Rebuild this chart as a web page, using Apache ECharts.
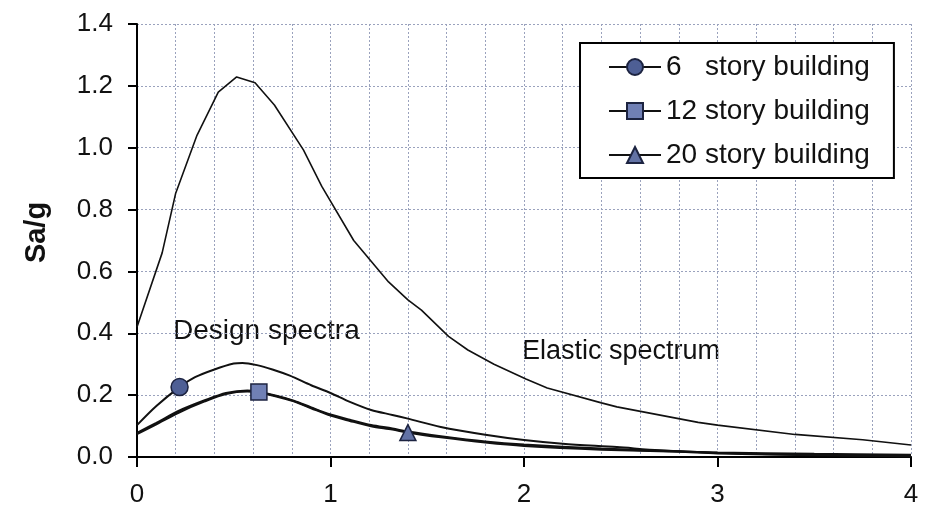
<!DOCTYPE html>
<html>
<head>
<meta charset="utf-8">
<script src="https://cdn.jsdelivr.net/npm/echarts@6/dist/echarts.min.js"></script>
<style>
  html, body { margin: 0; padding: 0; background: #fff; }
  #chart { width: 930px; height: 516px; }
</style>
</head>
<body>
<div id="chart"></div>
<script>
// values (period in s vs Sa/g)
var elasticX = [0, 0.13, 0.2, 0.31, 0.42, 0.515, 0.61, 0.71, 0.86, 0.955, 1.12, 1.3, 1.4, 1.47, 1.61, 1.71, 1.845, 2.01, 2.12, 2.4, 2.48, 2.9, 3.0, 3.4, 3.75, 4.0];
var elasticY = [0.42, 0.66, 0.853, 1.04, 1.18, 1.229, 1.21, 1.138, 0.993, 0.875, 0.70, 0.566, 0.508, 0.475, 0.39, 0.346, 0.30, 0.252, 0.223, 0.175, 0.162, 0.112, 0.103, 0.073, 0.056, 0.039];

var story6X = [0, 0.1, 0.22, 0.3, 0.4, 0.5, 0.545, 0.62, 0.7, 0.79, 0.9, 1.0, 1.1, 1.21, 1.32, 1.4, 1.57, 1.8, 2.0, 2.2, 2.48, 2.7, 3.0, 3.45, 4.0];
var story6Y = [0.103, 0.165, 0.226, 0.258, 0.283, 0.302, 0.304, 0.297, 0.283, 0.263, 0.232, 0.207, 0.178, 0.152, 0.136, 0.124, 0.097, 0.072, 0.055, 0.043, 0.032, 0.022, 0.014, 0.007, 0.002];

var story12X = [0, 0.1, 0.22, 0.35, 0.46, 0.57, 0.63, 0.72, 0.81, 0.9, 1.0, 1.1, 1.21, 1.32, 1.4, 1.57, 1.8, 2.0, 2.4, 2.8, 3.0, 3.5, 4.0];
var story12Y = [0.078, 0.11, 0.15, 0.183, 0.207, 0.215, 0.21, 0.198, 0.182, 0.16, 0.137, 0.12, 0.103, 0.092, 0.082, 0.067, 0.05, 0.04, 0.027, 0.018, 0.014, 0.01, 0.007];

var story20X = [0, 0.1, 0.22, 0.35, 0.46, 0.57, 0.63, 0.72, 0.81, 0.9, 1.0, 1.1, 1.21, 1.32, 1.4, 1.57, 1.8, 2.0, 2.4, 2.8, 3.0, 3.5, 4.0];
var story20Y = [0.074, 0.106, 0.145, 0.18, 0.204, 0.212, 0.208, 0.196, 0.18, 0.158, 0.134, 0.117, 0.1, 0.089, 0.079, 0.064, 0.047, 0.036, 0.024, 0.017, 0.012, 0.006, 0.003];

var legendNames = ['6   story building', '12 story building', '20 story building'];
var yTicks = [0, 0.2, 0.4, 0.6, 0.8, 1.0, 1.2, 1.4];
var xTicks = [0, 1, 2, 3, 4];

var font = 'Liberation Sans, Arial, sans-serif';

// only one marker per curve, like the original
function withMarker(xs, ys, markAt) {
  return xs.map(function (x, i) {
    if (x === markAt) return [x, ys[i]];
    return { value: [x, ys[i]], symbol: 'none' };
  });
}

var myChart = echarts.init(document.getElementById('chart'));

var gridLine = { show: true, lineStyle: { color: '#9aa2bd', type: [2, 2], width: 1 } };

var option = {
  animation: false,
  backgroundColor: '#fff',
  grid: { left: 137, right: 19, top: 24, bottom: 59 },
  xAxis: {
    type: 'value',
    min: xTicks[0],
    max: xTicks[xTicks.length - 1],
    interval: 1,
    axisLine: { show: true, onZero: false, lineStyle: { color: '#000', width: 2 } },
    axisTick: { show: true, inside: false, length: 10, lineStyle: { color: '#000', width: 2 } },
    axisLabel: { fontSize: 26, color: '#111', fontFamily: font, margin: 25 },
    splitLine: gridLine,
    minorTick: { show: false, splitNumber: 5 },
    minorSplitLine: gridLine
  },
  yAxis: {
    type: 'value',
    min: yTicks[0],
    max: yTicks[yTicks.length - 1],
    interval: 0.2,
    name: 'Sa/g',
    nameLocation: 'middle',
    nameGap: 86,
    nameTextStyle: { fontSize: 29, fontWeight: 'bold', color: '#111', fontFamily: font, padding: [0, 0, 0, 16] },
    axisLine: { show: true, lineStyle: { color: '#000', width: 2 } },
    axisTick: { show: true, length: 9, lineStyle: { color: '#000', width: 2 } },
    axisLabel: {
      fontSize: 26, color: '#111', fontFamily: font, margin: 24,
      formatter: function (v) { return v.toFixed(1); }
    },
    splitLine: gridLine
  },
  legend: {
    data: legendNames,
    orient: 'vertical',
    left: 580,
    top: 43,
    padding: [9, 24, 8, 28],
    itemWidth: 52,
    itemHeight: 20,
    itemGap: 14,
    backgroundColor: '#fff',
    borderColor: '#000',
    borderWidth: 2,
    textStyle: { fontSize: 28, color: '#111', fontFamily: font, lineHeight: 30 }
  },
  graphic: [
    { type: 'text', left: 173, top: 317, style: { text: 'Design spectra', fontSize: 28, fill: '#111', fontFamily: font } },
    { type: 'text', left: 522, top: 338, style: { text: 'Elastic spectrum', fontSize: 27, fill: '#111', fontFamily: font } }
  ],
  series: [
    {
      name: 'Elastic spectrum',
      type: 'line',
      symbol: 'none',
      lineStyle: { color: '#111', width: 1.6 },
      data: elasticX.map(function (x, i) { return [x, elasticY[i]]; })
    },
    {
      name: legendNames[0],
      type: 'line',
      smooth: 0.3,
      symbol: 'circle',
      symbolSize: 17,
      itemStyle: { color: '#4e5f95', borderColor: '#1c2340', borderWidth: 1.5 },
      lineStyle: { color: '#111', width: 2 },
      data: withMarker(story6X, story6Y, 0.22)
    },
    {
      name: legendNames[1],
      type: 'line',
      smooth: 0.3,
      symbol: 'rect',
      symbolSize: 16,
      itemStyle: { color: '#7080b5', borderColor: '#1c2340', borderWidth: 1.5 },
      lineStyle: { color: '#111', width: 2.2 },
      data: withMarker(story12X, story12Y, 0.63)
    },
    {
      name: legendNames[2],
      type: 'line',
      smooth: 0.3,
      symbol: 'triangle',
      symbolSize: 16,
      itemStyle: { color: '#6272a5', borderColor: '#1c2340', borderWidth: 1.5 },
      lineStyle: { color: '#111', width: 2.2 },
      data: withMarker(story20X, story20Y, 1.4)
    }
  ]
};

myChart.setOption(option);
window.onresize = function () {
  myChart.resize();
};
</script>
</body>
</html>
